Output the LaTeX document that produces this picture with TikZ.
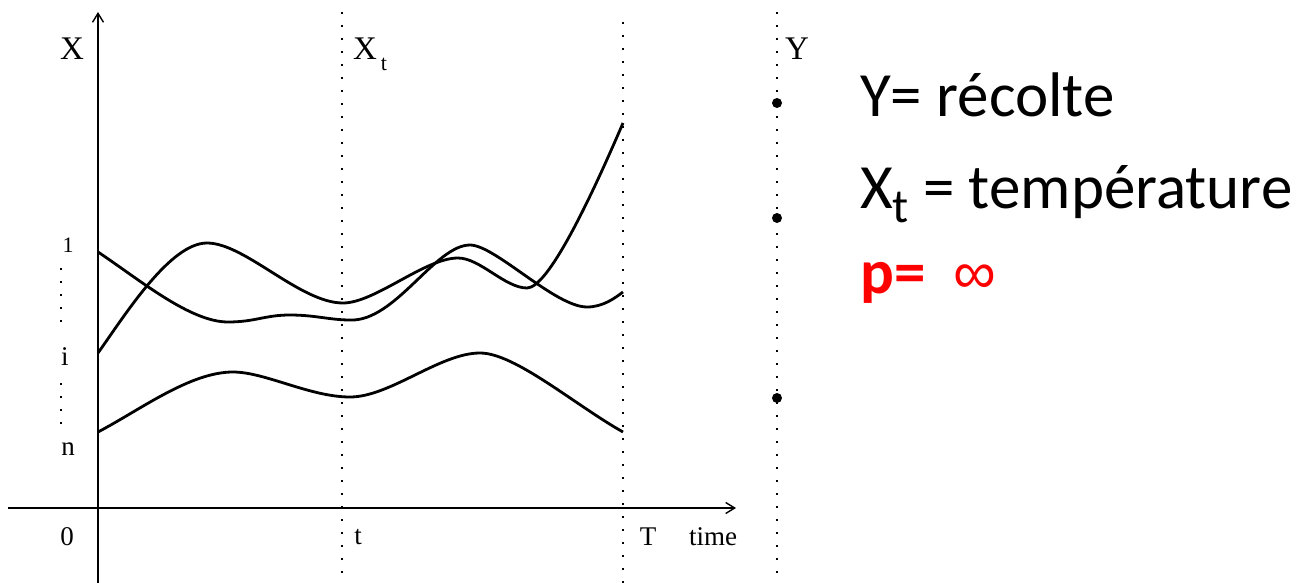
\documentclass[tikz,border=0pt]{standalone}
\usepackage{fontspec}
\setmainfont{Liberation Serif}
\newfontfamily\calib{Carlito}
\newfontfamily\infsym{Liberation Sans}
\usetikzlibrary{arrows.meta}
\begin{document}
\begin{tikzpicture}[x=1pt,y=-1pt,
  axisline/.style={line width=1.4pt,-{Straight Barb[length=9pt,width=11pt]}},
  dotline/.style={line width=1.8pt,dash pattern=on 2pt off 11pt},
  curve/.style={line width=2.8pt},
  small/.style={inner sep=0pt,font=\fontsize{27}{30}\selectfont},
  big/.style={inner sep=0pt,font=\fontsize{33}{36}\selectfont},
  txt/.style={inner sep=0pt,anchor=base west,font=\calib\fontsize{63}{70}\selectfont},
  ydot/.style={circle,fill=black,inner sep=0pt,minimum size=10pt}]
\useasboundingbox (0,0) rectangle (1299,583);
% axes
\coordinate (ybot) at (98,583);
\coordinate (ytop) at (98,12);
\coordinate (xl) at (8,508);
\coordinate (xr) at (736,508);
\draw[axisline] (ybot) -- (ytop);
\draw[axisline] (xl) -- (xr);
% dotted verticals
\coordinate (ta) at (342,12); \coordinate (tb) at (342,583);
\coordinate (Ta) at (623,22); \coordinate (Tb) at (623,583);
\coordinate (Ya) at (777,12); \coordinate (Yb) at (777,583);
\draw[dotline] (ta) -- (tb);
\draw[dotline] (Ta) -- (Tb);
\draw[dotline] (Ya) -- (Yb);
% left dotted segments
\coordinate (l1a) at (61,268); \coordinate (l1b) at (61,330);
\coordinate (l2a) at (61,383); \coordinate (l2b) at (61,432);
\draw[dotline] (l1a) -- (l1b);
\draw[dotline] (l2a) -- (l2b);
% curves
\draw[curve] (98,252) .. controls (140,280) and (190,322) .. (228,322)
  .. controls (255,322) and (265,315) .. (290,315)
  .. controls (315,315) and (330,320) .. (350,320)
  .. controls (395,322) and (435,245) .. (470,245)
  .. controls (495,245) and (555,307) .. (587,307)
  .. controls (603,307) and (615,298) .. (623,292);
\draw[curve] (98,353) .. controls (125,315) and (170,243) .. (207,243)
  .. controls (245,243) and (300,303) .. (343,303)
  .. controls (375,303) and (425,258) .. (458,258)
  .. controls (480,258) and (505,288) .. (527,288)
  .. controls (548,288) and (590,200) .. (623,123);
\draw[curve] (98,432) .. controls (140,410) and (190,372) .. (233,372)
  .. controls (265,372) and (310,397) .. (350,397)
  .. controls (390,397) and (440,353) .. (480,353)
  .. controls (515,353) and (575,405) .. (623,432);
% labels
\node[big] (lX) at (72,49) {X};
\node[big] (lXt) at (365,49) {X};
\node[small,font=\fontsize{22}{24}\selectfont] (lXts) at (384,64) {t};
\node[big] (lY) at (797,49) {Y};
\node[small,font=\fontsize{22}{24}\selectfont] (l1) at (68,245) {1};
\node[small] (li) at (65,357) {i};
\node[small] (ln) at (68,449) {n};
\node[small] (l0) at (67,537) {0};
\node[small] (lt) at (358,537) {t};
\node[small] (lT) at (648,537) {T};
\node[small] (ltime) at (713,537) {time};
% Y dots
\node[ydot] (d1) at (777,103) {};
\node[ydot] (d2) at (777,218) {};
\node[ydot] (d3) at (777,398) {};
% right text
\node[txt] (t1) at (860,117) {Y= récolte};
\node[txt] (t2) at (860,208) {X\raisebox{-14pt}{\fontsize{48}{50}\selectfont t} = température};
\node[txt,text=red] (t3) at (860,293) {\bfseries p=\ \ {\infsym\mdseries\fontsize{60}{64}\selectfont ∞}};
\end{tikzpicture}
\end{document}
